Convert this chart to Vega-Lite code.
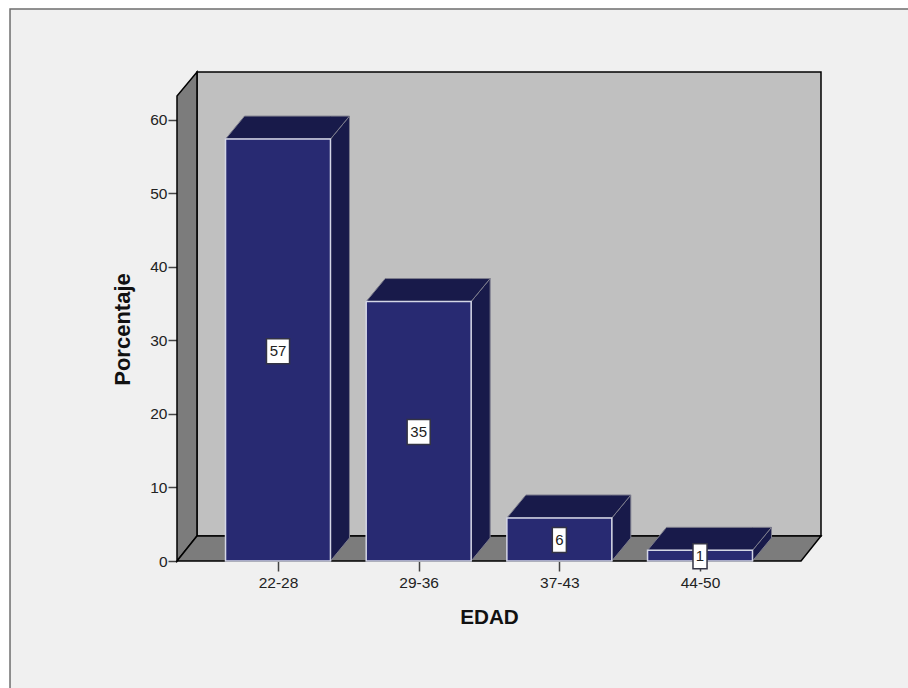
{
"$schema":"https://vega.github.io/schema/vega-lite/v6.json",
"width":644,"height":489,
"autosize":{"type":"none"},
"padding":{"left":177,"top":72,"right":87,"bottom":127},
"background":"#f0f0f0",
"config":{"view":{"stroke":null}},
"datasets":{
"strips":[{"x0":-3,"x1":-1.905,"y0":-25,"y1":85},{"x0":-3,"x1":5,"y0":75.1,"y1":85}],
"frame":[{"x0":-1.905,"x1":4.6,"y0":-19,"y1":75.1}],
"backwall":[{"x0":-0.576,"x1":3.86,"y0":3.4,"y1":66.53}],
"walls":[
{"part":"left","x":-0.718,"lo":0,"hi":63.27},
{"part":"left","x":-0.576,"lo":3.4,"hi":66.53},
{"part":"floor","x":-0.718,"lo":0,"hi":0},
{"part":"floor","x":-0.576,"lo":0,"hi":3.4},
{"part":"floor","x":3.718,"lo":0,"hi":3.4},
{"part":"floor","x":3.86,"lo":3.4,"hi":3.4}
],
"bars":[
{"pos":0,"x0":-0.373,"x1":0.373,"base":0,"value":57.4},
{"pos":1,"x0":0.627,"x1":1.373,"base":0,"value":35.3},
{"pos":2,"x0":1.627,"x1":2.373,"base":0,"value":5.85},
{"pos":3,"x0":2.627,"x1":3.373,"base":0,"value":1.45}
],
"side":[
{"pos":0,"x":0.373,"lo":0,"hi":57.4},{"pos":0,"x":0.508,"lo":3.13,"hi":60.53},
{"pos":1,"x":1.373,"lo":0,"hi":35.3},{"pos":1,"x":1.508,"lo":3.13,"hi":38.43},
{"pos":2,"x":2.373,"lo":0,"hi":5.85},{"pos":2,"x":2.508,"lo":3.13,"hi":8.98},
{"pos":3,"x":3.373,"lo":0,"hi":1.45},{"pos":3,"x":3.508,"lo":3.13,"hi":4.58}
],
"top":[
{"pos":0,"x":-0.373,"lo":57.4,"hi":57.4},{"pos":0,"x":-0.238,"lo":57.4,"hi":60.53},{"pos":0,"x":0.373,"lo":57.4,"hi":60.53},{"pos":0,"x":0.508,"lo":60.53,"hi":60.53},
{"pos":1,"x":0.627,"lo":35.3,"hi":35.3},{"pos":1,"x":0.762,"lo":35.3,"hi":38.43},{"pos":1,"x":1.373,"lo":35.3,"hi":38.43},{"pos":1,"x":1.508,"lo":38.43,"hi":38.43},
{"pos":2,"x":1.627,"lo":5.85,"hi":5.85},{"pos":2,"x":1.762,"lo":5.85,"hi":8.98},{"pos":2,"x":2.373,"lo":5.85,"hi":8.98},{"pos":2,"x":2.508,"lo":8.98,"hi":8.98},
{"pos":3,"x":2.627,"lo":1.45,"hi":1.45},{"pos":3,"x":2.762,"lo":1.45,"hi":4.58},{"pos":3,"x":3.373,"lo":1.45,"hi":4.58},{"pos":3,"x":3.508,"lo":4.58,"hi":4.58}
],
"labels":[
{"pos":0,"mid":28.55,"label":"57","l":-0.082,"r":0.082,"b":26.85,"t":30.25},
{"pos":1,"mid":17.55,"label":"35","l":0.918,"r":1.082,"b":15.85,"t":19.25},
{"pos":2,"mid":2.85,"label":"6","l":1.95,"r":2.05,"b":1.15,"t":4.55},
{"pos":3,"mid":0.63,"label":"1","l":2.95,"r":3.05,"b":-1.07,"t":2.33}
]
},
"layer":[
{"data":{"name":"strips"},"mark":{"type":"rect","fill":"#ffffff"},
"encoding":{
"x":{"field":"x0","type":"quantitative","scale":{"domain":[-0.718,3.86],"nice":false,"zero":false},
"axis":{"zindex":0,"values":[0,1,2,3],"labelExpr":"['22-28','29-36','37-43','44-50'][datum.value]","grid":false,"domain":false,"tickSize":10,"tickColor":"#444444","tickWidth":1.5,"labelFontSize":15.5,"labelFont":"Liberation Sans","labelColor":"#222222","labelPadding":4,"title":"EDAD","titleFont":"Liberation Sans","titleFontSize":20.7,"titleFontWeight":"bold","titleColor":"#111111","titleX":312,"titleY":46}},
"x2":{"field":"x1"},
"y":{"field":"y0","type":"quantitative","scale":{"domain":[0,66.53],"nice":false,"zero":false},
"axis":{"zindex":0,"values":[0,10,20,30,40,50,60],"grid":false,"domain":false,"tickSize":9,"tickColor":"#444444","tickWidth":1.5,"labelFontSize":15.5,"labelFont":"Liberation Sans","labelColor":"#222222","labelPadding":1,"title":"Porcentaje","titleFont":"Liberation Sans","titleFontSize":22,"titleFontWeight":"bold","titleColor":"#111111","titleX":-43,"titleY":257}},
"y2":{"field":"y1"}}},
{"data":{"name":"frame"},"mark":{"type":"rect","fillOpacity":0,"stroke":"#6e6e6e","strokeWidth":1.5},
"encoding":{"x":{"field":"x0","type":"quantitative"},"x2":{"field":"x1"},"y":{"field":"y0","type":"quantitative"},"y2":{"field":"y1"}}},
{"data":{"name":"backwall"},"mark":{"type":"rect","fill":"#c0c0c0","stroke":"#000000","strokeWidth":1.5},
"encoding":{"x":{"field":"x0","type":"quantitative"},"x2":{"field":"x1"},"y":{"field":"y0","type":"quantitative"},"y2":{"field":"y1"}}},
{"data":{"name":"walls"},"mark":{"type":"area","fill":"#7c7c7c","stroke":"#000000","strokeWidth":1.5,"orient":"vertical"},
"encoding":{"x":{"field":"x","type":"quantitative"},"y":{"field":"lo","type":"quantitative"},"y2":{"field":"hi"},"detail":{"field":"part","type":"nominal"}}},
{"data":{"name":"side"},"mark":{"type":"area","fill":"#181a4a","stroke":"#7c7c8c","strokeWidth":1,"orient":"vertical"},
"encoding":{"x":{"field":"x","type":"quantitative"},"y":{"field":"lo","type":"quantitative"},"y2":{"field":"hi"},"detail":{"field":"pos","type":"nominal"}}},
{"data":{"name":"top"},"mark":{"type":"area","fill":"#181a4a","stroke":"#7c7c8c","strokeWidth":1,"orient":"vertical"},
"encoding":{"x":{"field":"x","type":"quantitative"},"y":{"field":"lo","type":"quantitative"},"y2":{"field":"hi"},"detail":{"field":"pos","type":"nominal"}}},
{"data":{"name":"bars"},"mark":{"type":"rect","fill":"#282a72","stroke":"#d4d6e6","strokeWidth":1.5},
"encoding":{"x":{"field":"x0","type":"quantitative"},"x2":{"field":"x1"},"y":{"field":"base","type":"quantitative"},"y2":{"field":"value"}}},
{"data":{"name":"labels"},"mark":{"type":"rect","fill":"#ffffff","stroke":"#333344","strokeWidth":1.5},
"encoding":{"x":{"field":"l","type":"quantitative"},"x2":{"field":"r"},"y":{"field":"b","type":"quantitative"},"y2":{"field":"t"}}},
{"data":{"name":"labels"},"mark":{"type":"text","font":"Liberation Sans","fontSize":15,"color":"#222222","align":"center","baseline":"middle"},
"encoding":{"x":{"field":"pos","type":"quantitative"},"y":{"field":"mid","type":"quantitative"},"text":{"field":"label","type":"nominal"}}}
]
}
